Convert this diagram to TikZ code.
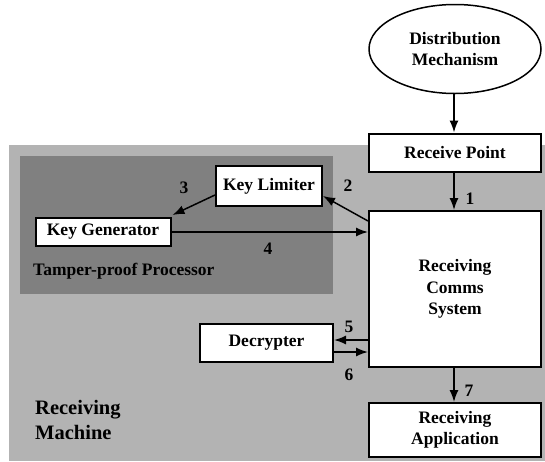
\documentclass[tikz,border=0pt]{standalone}
\usepackage{fontspec}
\setmainfont{Liberation Serif}
\usetikzlibrary{arrows.meta,shapes.geometric,calc}
\definecolor{machinegray}{RGB}{179,179,179}
\definecolor{procgray}{RGB}{128,128,128}
\tikzset{
  txt/.style={font=\fontsize{17.5}{21.5}\selectfont\bfseries, align=center},
  box/.style={txt, draw=black, fill=white, line width=2pt, rectangle, inner sep=0pt},
  flow/.style={line width=1.5pt, -{Latex[length=12pt,width=9pt]}},
  num/.style={txt, inner sep=0pt},
}
\begin{document}
\begin{tikzpicture}[x=1pt,y=-1pt]
  \useasboundingbox (0,0) rectangle (545,461);
  % receiving machine and tamper-proof processor areas
  \fill[machinegray] (9,144.5) rectangle (545,461);
  \fill[procgray] (20,156) rectangle (333,294);

  % components
  \node[txt, draw=black, fill=white, line width=1.5pt, ellipse, minimum width=172pt, minimum height=89pt, inner sep=0pt] (dist) at (455,49) {Distribution\\Mechanism};
  \node[box, minimum width=172pt, minimum height=38.5pt] (recv) at (455,152.75) {Receive Point};
  \node[box, minimum width=172pt, minimum height=156pt] (comms) at (455,289) {Receiving\\Comms\\System};
  \node[box, minimum width=172pt, minimum height=54pt] (app) at (455,430) {Receiving\\Application};
  \node[box, minimum width=106pt, minimum height=40pt] (limiter) at (269,186) {Key Limiter};
  \node[box, minimum width=135pt, minimum height=28pt] (keygen) at (103,232) {Key Generator};
  \node[box, minimum width=133pt, minimum height=38pt] (decrypt) at (266.5,343) {Decrypter};

  % area labels
  \node[txt, anchor=west, inner sep=0pt] (procl) at (33,271) {Tamper-proof Processor};
  \node[txt, anchor=west, align=left, inner sep=0pt, font=\fontsize{20.5}{25}\selectfont\bfseries] (machl) at (35,419.5) {Receiving\\Machine};

  % connectors
  \draw[flow] ([xshift=-1pt]dist.south) -- ([xshift=-1pt]recv.north);
  \draw[flow] ([xshift=-1pt]recv.south) -- ([xshift=-1pt]comms.north);
  \draw[flow] ([yshift=-11pt]comms.north west) -- ([yshift=-10pt]limiter.east);
  \draw[flow] ([yshift=-9pt]limiter.west) -- ([xshift=1pt,yshift=2pt]keygen.north east);
  \draw[flow] (keygen.east) -- (keygen.east -| comms.west);
  \draw[flow] ([yshift=3pt]decrypt.east -| comms.west) -- ([yshift=3pt]decrypt.east);
  \draw[flow] ([yshift=-9pt]decrypt.east) -- ([yshift=-9pt]decrypt.east -| comms.west);
  \draw[flow] ([xshift=-1pt]comms.south) -- ([xshift=-1pt]app.north);

  % step numbers
  \node[num] (n1) at (470,199) {1};
  \node[num] (n2) at (348,186) {2};
  \node[num] (n3) at (184,188) {3};
  \node[num] (n4) at (268,249) {4};
  \node[num] (n5) at (349,327) {5};
  \node[num] (n6) at (349,375) {6};
  \node[num] (n7) at (469,391) {7};
\end{tikzpicture}
\end{document}
